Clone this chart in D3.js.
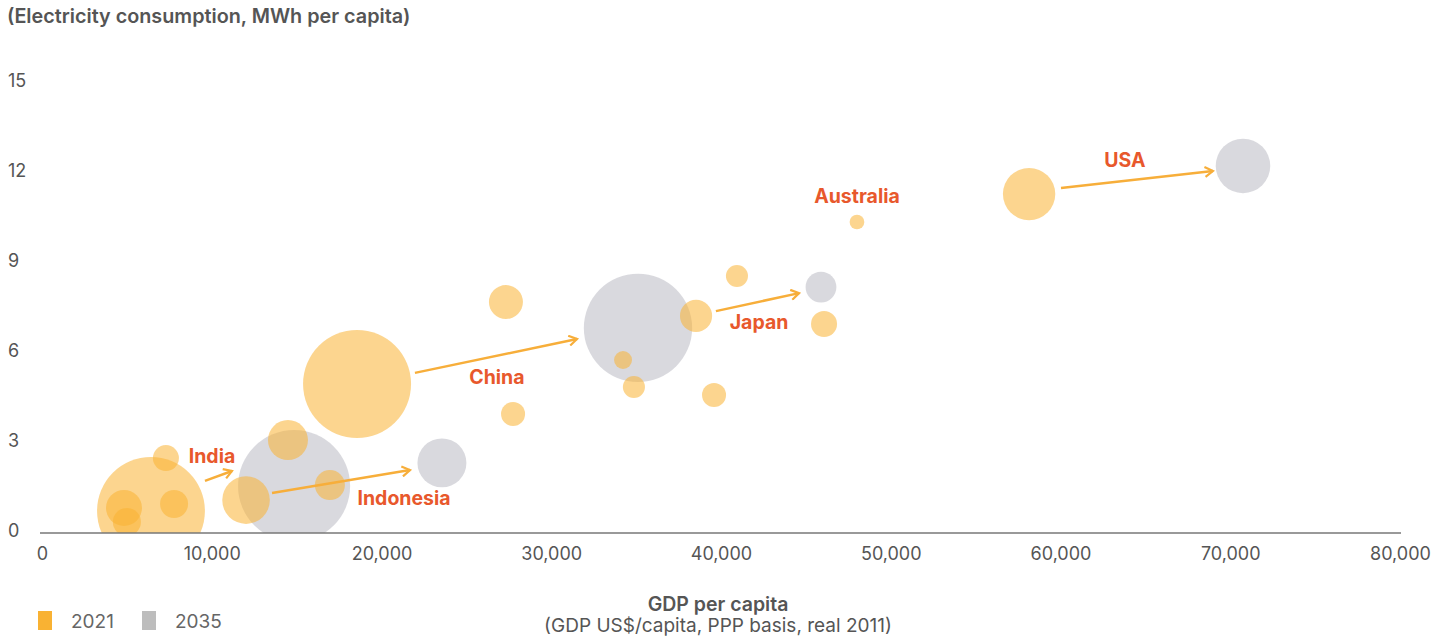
<!DOCTYPE html>
<html>
<head>
<meta charset="utf-8">
<script src="https://cdn.jsdelivr.net/npm/d3@7"></script>
<style>
  body { margin: 0; background: #fff; }
  svg { display: block; font-family: Inter, "Open Sans", sans-serif; }
</style>
</head>
<body>
<svg id="chart"></svg>
<script>
// 2035 bubbles (grey)
const names2035 = ["India", "Indonesia", "China", "Japan", "USA"];
const gdp2035 = [14850, 23560, 35110, 45890, 70750];
const elec2035 = [1.5, 2.27, 6.77, 8.13, 12.17];
const pop2035 = [1520, 290, 1420, 115, 360];

// 2021 bubbles (orange)
const names2021 = ["India", "Indonesia", "China", "Japan", "USA", "Australia",
  "", "", "", "", "", "", "", "", "", "", "", "", ""];
const gdp2021 = [6420, 12020, 18560, 38530, 58150, 48010,
  7300, 7780, 4830, 5000, 14490, 16960, 27330, 27750, 34230, 34870, 39590, 40940, 46070];
const elec2021 = [0.67, 1.03, 4.9, 7.17, 11.23, 10.3,
  2.43, 0.9, 0.77, 0.3, 3.03, 1.53, 7.63, 3.9, 5.7, 4.8, 4.53, 8.5, 6.9];
const pop2021 = [1408, 274, 1412, 125, 332, 26,
  82, 95, 157, 95, 194, 109, 140, 70, 39, 59, 70, 59, 82];

// country arrows, 2021 -> 2035 (data units)
const arrowFromX = [9600, 13550, 21970, 39700, 60030];
const arrowFromY = [1.67, 1.27, 5.27, 7.33, 11.43];
const arrowToX = [11190, 21680, 31520, 44600, 68980];
const arrowToY = [2.0, 2.03, 6.4, 7.93, 12.0];

// country labels (data units)
const labelText = ["USA", "Australia", "Japan", "China", "India", "Indonesia"];
const labelX = [63800, 48010, 42240, 26800, 10015, 21330];
const labelY = [12.37, 11.17, 6.97, 5.13, 2.5, 1.1];

const xTicks = [0, 10000, 20000, 30000, 40000, 50000, 60000, 70000, 80000];
const yTicks = [0, 3, 6, 9, 12, 15];
const legendYears = ["2021", "2035"];

const width = 1446, height = 642;
const svg = d3.select("#chart").attr("width", width).attr("height", height);

const x = d3.scaleLinear().domain([0, 80000]).range([42, 1400]);
const y = d3.scaleLinear().domain([0, 15]).range([531, 81]);
const r = d3.scaleSqrt().domain([0, 1412]).range([0, 54]);

const bubbles2035 = names2035.map((n, i) => ({ name: n, gdp: gdp2035[i], elec: elec2035[i], pop: pop2035[i] }));
const bubbles2021 = names2021.map((n, i) => ({ name: n, gdp: gdp2021[i], elec: elec2021[i], pop: pop2021[i] }));

// title
svg.append("text")
  .attr("x", 7).attr("y", 23)
  .attr("font-size", 19.8).attr("font-weight", 600).attr("fill", "#555")
  .text("(Electricity consumption, MWh per capita)");

// y tick labels
svg.append("g").selectAll("text")
  .data(yTicks).enter().append("text")
  .attr("x", 8).attr("y", d => y(d))
  .attr("dy", "0.35em")
  .attr("font-size", 18).attr("fill", "#555")
  .text(d => d);

// clip bubbles at the x axis
svg.append("clipPath").attr("id", "plot")
  .append("rect").attr("x", 0).attr("y", 0).attr("width", width).attr("height", y(0) + 2);

const plot = svg.append("g").attr("clip-path", "url(#plot)");

plot.selectAll("circle.b35")
  .data(bubbles2035).enter().append("circle")
  .attr("class", "b35")
  .attr("cx", d => x(d.gdp)).attr("cy", d => y(d.elec)).attr("r", d => r(d.pop))
  .attr("fill", "#C9C9D0").attr("fill-opacity", 0.7);

plot.selectAll("circle.b21")
  .data(bubbles2021).enter().append("circle")
  .attr("class", "b21")
  .attr("cx", d => x(d.gdp)).attr("cy", d => y(d.elec)).attr("r", d => r(d.pop))
  .attr("fill", "#F9B233").attr("fill-opacity", 0.55);

// x axis
const xAxis = d3.axisBottom(x).tickValues(xTicks).tickSize(0).tickPadding(14)
  .tickFormat(d3.format(","));
const gx = svg.append("g").attr("transform", `translate(0,${y(0) + 2})`).call(xAxis);
gx.select(".domain").attr("stroke", "#777").attr("stroke-width", 1.5).attr("d", "M40,0H1401");
gx.selectAll("text").attr("font-size", 18).attr("fill", "#555").attr("font-family", "Inter, sans-serif");

// arrows
svg.append("defs").append("marker")
  .attr("id", "head")
  .attr("viewBox", "0 0 12 12")
  .attr("refX", 10).attr("refY", 6)
  .attr("markerWidth", 12).attr("markerHeight", 12)
  .attr("markerUnits", "userSpaceOnUse")
  .attr("orient", "auto")
  .append("path")
  .attr("d", "M2,1 L10,6 L2,11")
  .attr("fill", "none").attr("stroke", "#F7AE3A").attr("stroke-width", 2.2);

svg.append("g").selectAll("line")
  .data(arrowFromX).enter().append("line")
  .attr("x1", (d, i) => x(d)).attr("y1", (d, i) => y(arrowFromY[i]))
  .attr("x2", (d, i) => x(arrowToX[i])).attr("y2", (d, i) => y(arrowToY[i]))
  .attr("stroke", "#F7AE3A").attr("stroke-width", 2.5)
  .attr("marker-end", "url(#head)");

// country labels
svg.append("g").selectAll("text")
  .data(labelText).enter().append("text")
  .attr("x", (d, i) => x(labelX[i])).attr("y", (d, i) => y(labelY[i]))
  .attr("dy", "0.35em")
  .attr("text-anchor", "middle")
  .attr("font-size", 19.5).attr("font-weight", 700).attr("fill", "#E8582C")
  .text(d => d);

// x axis title
svg.append("text")
  .attr("x", 718).attr("y", 611).attr("text-anchor", "middle")
  .attr("font-size", 19.5).attr("font-weight", 600).attr("fill", "#555")
  .text("GDP per capita");
svg.append("text")
  .attr("x", 718).attr("y", 632).attr("text-anchor", "middle")
  .attr("font-size", 19).attr("fill", "#555")
  .text("(GDP US$/capita, PPP basis, real 2011)");

// legend
const legendColor = d3.scaleOrdinal().domain(legendYears).range(["#F9B233", "#BDBDBD"]);
const lg = svg.append("g").selectAll("g")
  .data(legendYears).enter().append("g")
  .attr("transform", (d, i) => `translate(${38 + i * 104},611)`);
lg.append("rect").attr("width", 14).attr("height", 19).attr("fill", d => legendColor(d));
lg.append("text").attr("x", 33).attr("y", 17)
  .attr("font-size", 19).attr("fill", "#666")
  .text(d => d);
</script>
</body>
</html>
